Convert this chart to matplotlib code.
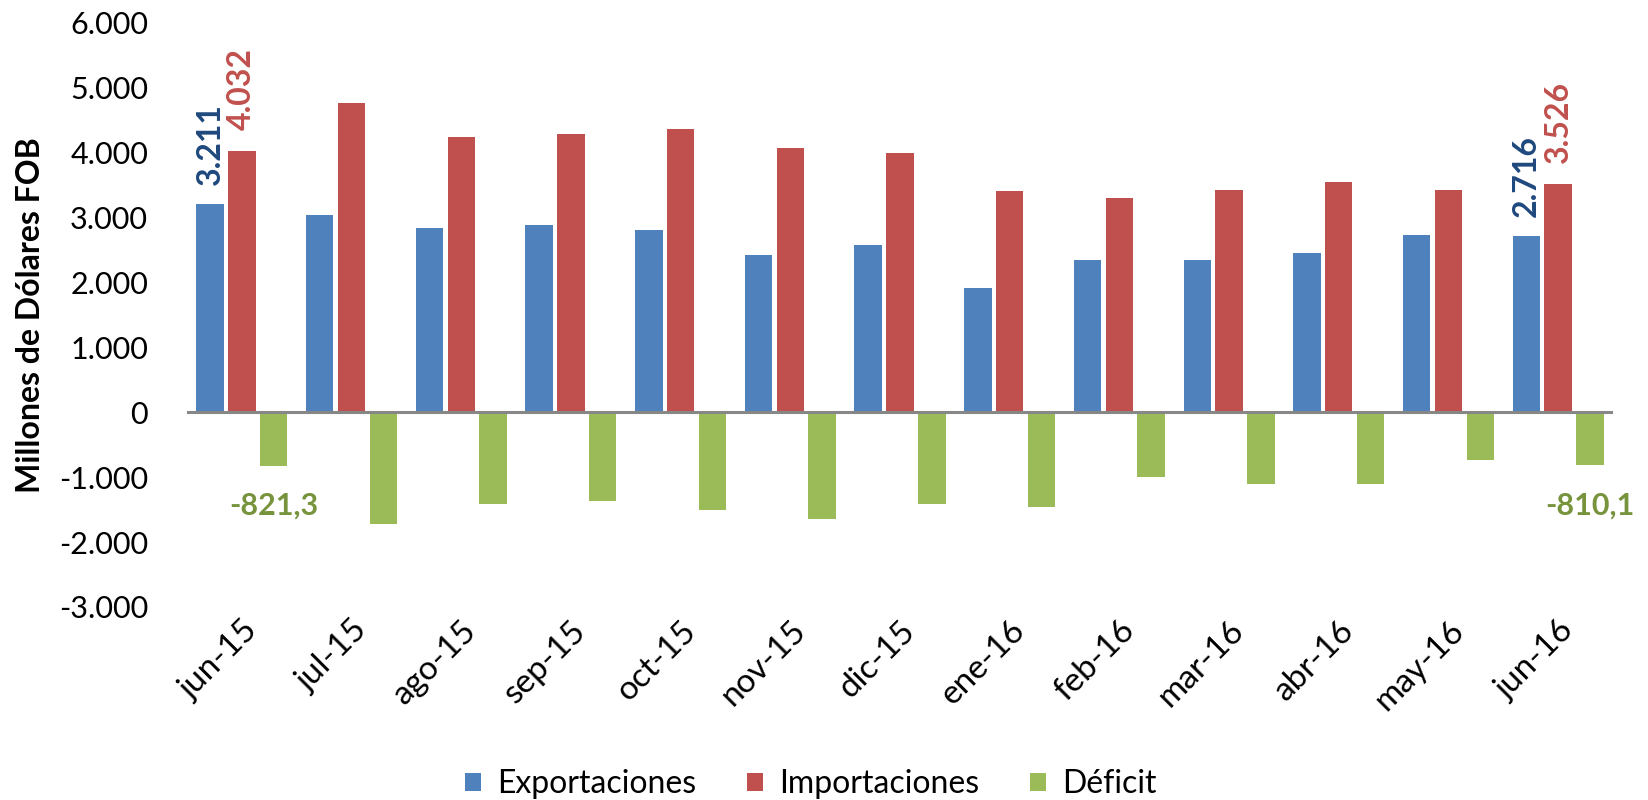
import numpy as np
import matplotlib.pyplot as plt
from matplotlib.ticker import FuncFormatter

plt.rcParams['font.family'] = ['Lato', 'DejaVu Sans']

# Data (millones de dolares FOB)
months = ['jun-15', 'jul-15', 'ago-15', 'sep-15', 'oct-15', 'nov-15', 'dic-15',
          'ene-16', 'feb-16', 'mar-16', 'abr-16', 'may-16', 'jun-16']
exportaciones = [3211, 3040, 2840, 2880, 2810, 2430, 2580, 1920, 2350, 2340, 2450, 2730, 2716]
importaciones = [4032, 4760, 4250, 4290, 4360, 4080, 4000, 3410, 3310, 3430, 3550, 3430, 3526]
deficit = [-821.3, -1720, -1410, -1370, -1500, -1650, -1420, -1460, -1000, -1110, -1110, -730, -810.1]

c_exp = '#4F81BD'
c_imp = '#C0504D'
c_def = '#9BBB59'

fig = plt.figure(figsize=(16.48, 8), dpi=100)
ax = fig.add_axes([187 / 1648, 1 - 607 / 800, (1613 - 187) / 1648, (607 - 23) / 800])

x = np.arange(len(months))
w = 0.25
off = 0.29
b1 = ax.bar(x - off, exportaciones, w, color=c_exp, label='Exportaciones')
b2 = ax.bar(x, importaciones, w, color=c_imp, label='Importaciones')
b3 = ax.bar(x + off, deficit, w, color=c_def, label='Déficit')

ax.axhline(0, color='#878787', lw=2.2, zorder=3)

ax.set_xlim(-0.5, len(months) - 0.5)
ax.set_ylim(-3000, 6000)
ax.set_yticks(range(-3000, 6001, 1000))
ax.yaxis.set_major_formatter(FuncFormatter(lambda v, p: f'{v:,.0f}'.replace(',', '.')))
ax.tick_params(axis='y', length=0, pad=28, labelsize=22)
ax.tick_params(axis='x', length=0, pad=6, labelsize=24)
ax.set_xticks(x)
ax.set_xticklabels(months, rotation=45, ha='right', rotation_mode='anchor')
for s in ax.spines.values():
    s.set_visible(False)

ax.set_ylabel('Millones de Dólares FOB', fontsize=23, fontweight='bold', labelpad=10)

# Data labels on first and last month
for i in [0, len(months) - 1]:
    ax.annotate(f'{exportaciones[i]:,}'.replace(',', '.'), (x[i] - off, exportaciones[i]),
                xytext=(0, 14), textcoords='offset points', rotation=90,
                ha='center', va='bottom', fontsize=23, fontweight='bold', color='#1F497D')
    ax.annotate(f'{importaciones[i]:,}'.replace(',', '.'), (x[i], importaciones[i]),
                xytext=(0, 15), textcoords='offset points', rotation=90,
                ha='center', va='bottom', fontsize=23, fontweight='bold', color=c_imp)
    ax.annotate(f'{deficit[i]:.1f}'.replace('.', ','), (x[i] + off, deficit[i]),
                xytext=(0, -29), textcoords='offset points',
                ha='center', va='center', fontsize=22, fontweight='bold', color='#77933C')

fig.legend(handles=[b1, b2, b3], loc='center', bbox_to_anchor=(811 / 1648, 1 - 784 / 800),
           ncol=3, frameon=False, fontsize=23, handlelength=0.5, handleheight=0.5,
           handletextpad=0.5, columnspacing=1.6)

fig.savefig('out.png', dpi=100)
